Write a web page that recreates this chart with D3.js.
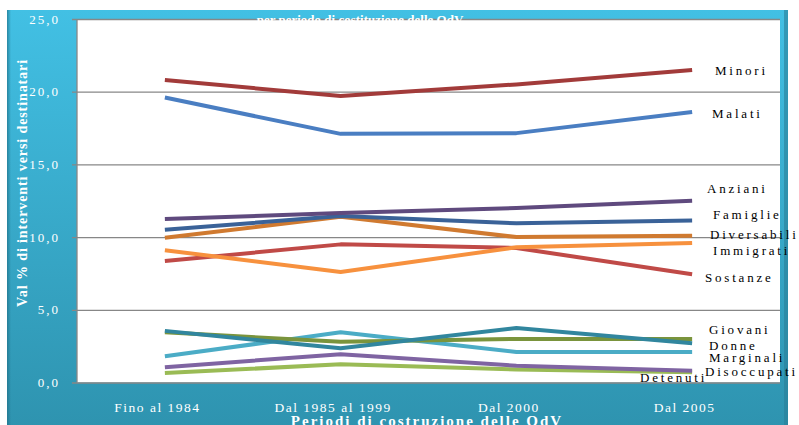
<!DOCTYPE html>
<html><head><meta charset="utf-8">
<script src="https://cdn.jsdelivr.net/npm/d3@7"></script>
<style>html,body{margin:0;padding:0;background:#fff;overflow:hidden}svg{display:block}</style>
</head><body>
<script>
const categories = ["Fino al 1984", "Dal 1985 al 1999", "Dal 2000", "Dal 2005"];
const seriesNames = ["Minori","Malati","Anziani","Famiglie","Diversabili","Immigrati","Sostanze","Giovani","Donne","Marginali","Disoccupati","Detenuti"];
const minori      = [20.8, 19.7, 20.5, 21.5];
const malati      = [19.6, 17.1, 17.15, 18.6];
const anziani     = [11.25, 11.65, 12.0, 12.5];
const famiglie    = [10.5, 11.45, 10.95, 11.15];
const diversabili = [9.95, 11.4, 10.0, 10.1];
const immigrati   = [9.1, 7.6, 9.3, 9.6];
const sostanze    = [8.35, 9.5, 9.25, 7.45];
const giovani     = [3.55, 2.35, 3.75, 2.7];
const donne       = [3.45, 2.8, 3.0, 3.0];
const marginali   = [1.8, 3.45, 2.1, 2.1];
const disoccupati = [1.05, 1.95, 1.15, 0.8];
const detenuti    = [0.65, 1.25, 0.9, 0.7];
const yTicks = [0, 5, 10, 15, 20, 25];
const yTickLabels = ["0,0", "5,0", "10,0", "15,0", "20,0", "25,0"];
const yTitle = "Val % di interventi versi destinatari";
const xTitle = "Periodi di costruzione delle OdV";
const chartTitle1 = "Interventi per tipologia di destinatari";
const chartTitle2 = "per periodo di costituzione delle OdV";

const allValues = [minori, malati, anziani, famiglie, diversabili, immigrati, sostanze, giovani, donne, marginali, disoccupati, detenuti];
const colors = ["#A23B3A","#4A7EC2","#5F4A7E","#3A6298","#D07A30","#F7913E","#C04A47","#31869E","#7A943C","#4BACC6","#7F64A2","#9ABB55"];
// label positions: [x, y center]
const labelPos = [[715,70],[712,113],[707,188],[713,214],[710,234],[713,250],[705,277],[709,329],[709,345],[709,357],[705,371],[640,377]];

const W = 799, H = 425;
const svg = d3.select("body").append("svg").attr("width", W).attr("height", H);
const defs = svg.append("defs");
const grad = defs.append("linearGradient").attr("id","bg").attr("x1",0).attr("y1",0).attr("x2",0).attr("y2",1);
grad.append("stop").attr("offset","0%").attr("stop-color","#42C0E4");
grad.append("stop").attr("offset","100%").attr("stop-color","#2E93AF");
const gradL = defs.append("linearGradient").attr("id","edge").attr("x1",0).attr("y1",0).attr("x2",1).attr("y2",0);
gradL.append("stop").attr("offset","0%").attr("stop-color","#1f6f86").attr("stop-opacity",0.7);
gradL.append("stop").attr("offset","100%").attr("stop-color","#1f6f86").attr("stop-opacity",0);

// outer frame
svg.append("rect").attr("x",7).attr("y",10).attr("width",781).attr("height",420).attr("fill","url(#bg)");
svg.append("rect").attr("x",7).attr("y",10).attr("width",4).attr("height",420).attr("fill","url(#edge)");
svg.append("rect").attr("x",784).attr("y",10).attr("width",4).attr("height",420).attr("fill","#2a7f98").attr("opacity",0.6);

const m = {left:77, top:19, right:780, bottom:382.5};
svg.append("rect").attr("x",m.left).attr("y",m.top).attr("width",m.right-m.left).attr("height",m.bottom-m.top).attr("fill","#fff");

const x = d3.scalePoint().domain(categories).range([m.left, m.right]).padding(0.5);
const y = d3.scaleLinear().domain([0,25]).range([m.bottom, m.top]);

const serif = "'Liberation Serif','DejaVu Serif',serif";

// gridlines
const yAxis = d3.axisLeft(y).tickValues(yTicks).tickSize(-(m.right-m.left)).tickFormat((d,i)=>yTickLabels[i]).tickPadding(17);
const gy = svg.append("g").attr("transform",`translate(${m.left},0)`).call(yAxis);
gy.select(".domain").remove();
gy.selectAll(".tick line").attr("stroke","#878787").attr("stroke-width",1.3).attr("x1",-5);
gy.selectAll(".tick text").attr("fill","#fff").style("font-family",serif).style("font-size","13px").style("letter-spacing","2px");
svg.append("line").attr("x1",m.left).attr("x2",m.left).attr("y1",m.top).attr("y2",m.bottom).attr("stroke","#878787").attr("stroke-width",1.3);

// x axis labels
const xAxis = d3.axisBottom(x).tickSize(0).tickPadding(20);
const gx = svg.append("g").attr("transform",`translate(-8,${m.bottom})`).call(xAxis);
gx.select(".domain").remove();
gx.selectAll(".tick text").attr("fill","#fff").style("font-family",serif).style("font-size","13.5px").style("letter-spacing","1.5px");

svg.append("text").attr("x",427).attr("y",426).attr("text-anchor","middle").attr("fill","#fff")
  .style("font-family",serif).style("font-size","15px").style("font-weight","bold").style("letter-spacing","2px").text(xTitle);

svg.append("text").attr("transform","translate(27,183) rotate(-90)").attr("text-anchor","middle").attr("fill","#fff")
  .style("font-family",serif).style("font-size","14px").style("font-weight","bold").style("letter-spacing","0.9px").text(yTitle);

// title (mostly hidden white text, as in the reference)
svg.append("text").attr("x",300).attr("y",5).attr("text-anchor","middle").attr("fill","#fff")
  .style("font-family",serif).style("font-size","13px").style("font-weight","bold").text(chartTitle1);
svg.append("text").attr("x",360).attr("y",24).attr("text-anchor","middle").attr("fill","#fff")
  .style("font-family",serif).style("font-size","13px").style("font-weight","bold").text(chartTitle2);

// lines
const line = d3.line().x((d,i)=>x(categories[i])).y(d=>y(d));
const order = [11,10,9,8,7,6,5,4,3,2,1,0];
order.forEach(i=>{
  svg.append("path").datum(allValues[i]).attr("d",line).attr("fill","none")
    .attr("stroke",colors[i]).attr("stroke-width",4).attr("stroke-linejoin","round");
});

// labels
seriesNames.forEach((n,i)=>{
  svg.append("text").attr("x",labelPos[i][0]).attr("y",labelPos[i][1]).attr("dy","0.35em")
    .attr("fill","#000").style("font-family",serif).style("font-size","13px").style("letter-spacing","2.8px").text(n);
});
</script>
</body></html>
